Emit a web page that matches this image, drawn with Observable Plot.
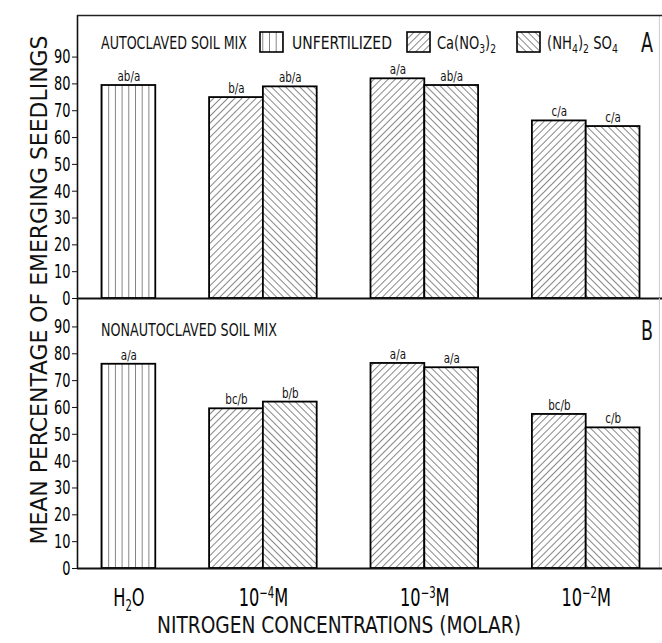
<!DOCTYPE html>
<html><head><meta charset="utf-8">
<script src="https://cdn.jsdelivr.net/npm/d3@7"></script>
<script src="https://cdn.jsdelivr.net/npm/@observablehq/plot@0.6"></script>
<style>
body{margin:0;background:#fff;}
#wrap{position:relative;width:662px;height:643px;overflow:hidden;background:#fff;}
#wrap svg{position:absolute;left:0;}
.cf{font-family:"Liberation Sans Narrow","DejaVu Sans Condensed","Roboto Condensed","Liberation Sans",sans-serif;fill:#111;}
</style></head><body>
<svg width="0" height="0" style="position:absolute">
<defs>
<pattern id="hatch-vert" patternUnits="userSpaceOnUse" x="1" y="0" width="6.7" height="10">
<rect width="6.7" height="10" fill="#fff"/><line x1="0" y1="0" x2="0" y2="10" stroke="#222" stroke-width="1.1"/></pattern>
<pattern id="hatch-ca" patternUnits="userSpaceOnUse" width="5" height="10" patternTransform="rotate(45)">
<rect width="5" height="10" fill="#fff"/><line x1="0" y1="0" x2="0" y2="10" stroke="#222" stroke-width="1.1"/></pattern>
<pattern id="hatch-nh4" patternUnits="userSpaceOnUse" width="5" height="10" patternTransform="rotate(-45)">
<rect width="5" height="10" fill="#fff"/><line x1="0" y1="0" x2="0" y2="10" stroke="#222" stroke-width="1.1"/></pattern>
</defs></svg>
<div id="wrap"></div>
<script>
// ---- data ----
const concentrations = ["H2O", "1e-4", "1e-3", "1e-2"];
const concLabels = ["H<tspan font-size='15' dy='5'>2</tspan><tspan dy='-5'>O</tspan>",
  "10<tspan font-size='15' dy='-8'>−4</tspan><tspan dy='8'>M</tspan>",
  "10<tspan font-size='15' dy='-8'>−3</tspan><tspan dy='8'>M</tspan>",
  "10<tspan font-size='15' dy='-8'>−2</tspan><tspan dy='8'>M</tspan>"];
const yTicks = [0, 10, 20, 30, 40, 50, 60, 70, 80, 90];

// Panel A: autoclaved soil mix
const autoWater = 79.4, autoWaterLetters = "ab/a";
const autoCa = [74.9, 81.9, 66.2], autoCaLetters = ["b/a", "a/a", "c/a"];
const autoNH4 = [78.9, 79.4, 64.1], autoNH4Letters = ["ab/a", "ab/a", "c/a"];
// Panel B: nonautoclaved soil mix
const nonWater = 76.1, nonWaterLetters = "a/a";
const nonCa = [59.5, 76.4, 57.4], nonCaLetters = ["bc/b", "a/a", "bc/b"];
const nonNH4 = [62.0, 74.8, 52.4], nonNH4Letters = ["b/b", "a/a", "c/b"];

function rows(w, wl, ca, cal, nh, nhl) {
  const r = [{conc: concentrations[0], treat: "U", value: w, letters: wl, x1: 0, x2: 1}];
  for (let i = 0; i < 3; i++) {
    const c = 3 * (i + 1);
    r.push({conc: concentrations[i + 1], treat: "Ca", value: ca[i], letters: cal[i], x1: c - 1, x2: c});
    r.push({conc: concentrations[i + 1], treat: "NH4", value: nh[i], letters: nhl[i], x1: c, x2: c + 1});
  }
  return r;
}
const dataA = rows(autoWater, autoWaterLetters, autoCa, autoCaLetters, autoNH4, autoNH4Letters);
const dataB = rows(nonWater, nonWaterLetters, nonCa, nonCaLetters, nonNH4, nonNH4Letters);
const groupCenters = concentrations.map((c, i) => i === 0 ? 0.5 : 3 * i);

const FONT = '"Liberation Sans Narrow","DejaVu Sans Condensed","Roboto Condensed","Liberation Sans",sans-serif';
const xDomain = [-0.455, 10.418];

function bars(data) {
  const common = {x1: "x1", x2: "x2", y: "value", stroke: "#000", strokeWidth: 1.8};
  return [
    Plot.rectY(data, {...common, filter: d => d.treat === "U", fill: "url(#hatch-vert)"}),
    Plot.rectY(data, {...common, filter: d => d.treat === "Ca", fill: "url(#hatch-ca)"}),
    Plot.rectY(data, {...common, filter: d => d.treat === "NH4", fill: "url(#hatch-nh4)"}),
    Plot.text(data, {x: d => (d.x1 + d.x2) / 2, y: "value", text: "letters", dy: -9, fontSize: 14, fill: "#111"})
  ];
}

const plotA = Plot.plot({
  width: 662, height: 300,
  marginLeft: 77, marginRight: 0, marginTop: 15, marginBottom: 2,
  x: {domain: xDomain, axis: null},
  y: {domain: [0, 105.5]},
  style: {fontFamily: FONT, background: "transparent", overflow: "visible"},
  marks: [
    ...bars(dataA),
    Plot.axisY(yTicks, {tickSize: 5, tickPadding: 2, fontSize: 20, label: null, stroke: "#111"}),
    Plot.ruleX([xDomain[0]], {stroke: "#111", strokeWidth: 1.6}),
    Plot.ruleX([10.36], {stroke: "#ccc", strokeWidth: 1}),
    Plot.ruleY([105.5], {stroke: "#222", strokeWidth: 1.6}),
    Plot.ruleY([0], {stroke: "#111", strokeWidth: 1.8})
  ]
});
plotA.style.top = "0px";

const plotB = Plot.plot({
  width: 662, height: 345,
  marginLeft: 77, marginRight: 0, marginTop: 0, marginBottom: 75,
  x: {domain: xDomain},
  y: {domain: [0, 100.6]},
  style: {fontFamily: FONT, background: "transparent", overflow: "visible"},
  marks: [
    ...bars(dataB),
    Plot.axisY(yTicks, {tickSize: 5, tickPadding: 2, fontSize: 20, label: null, stroke: "#111"}),
    Plot.axisX(groupCenters, {tickSize: 0, tickPadding: 20, fontSize: 24, label: null, tickFormat: (d, i) => concentrations[i]}),
    Plot.ruleX([xDomain[0]], {stroke: "#111", strokeWidth: 1.6}),
    Plot.ruleX([10.36], {stroke: "#ccc", strokeWidth: 1}),
    Plot.ruleY([0], {stroke: "#111", strokeWidth: 1.8})
  ]
});
plotB.style.top = "298px";

const wrap = document.getElementById("wrap");
wrap.appendChild(plotA);
wrap.appendChild(plotB);

// x tick labels with sub/superscripts
d3.select(plotB).selectAll('g[aria-label="x-axis tick label"] text').each(function () {
  const i = concentrations.indexOf(this.textContent);
  if (i >= 0) this.innerHTML = concLabels[i];
});
// condense Plot texts horizontally (the reference uses a narrow gothic face)
function condense(svg, sel, sx) {
  d3.select(svg).selectAll(sel).each(function () {
    const tr = this.getAttribute("transform") || "";
    this.setAttribute("transform", tr + ` scale(${sx},1)`);
  });
}
[plotA, plotB].forEach(p => {
  condense(p, 'g[aria-label="y-axis tick label"] text', 0.72);
  condense(p, 'g[aria-label="text"] text', 0.82);
});
condense(plotB, 'g[aria-label="x-axis tick label"] text', 0.75);

// overlay with titles, panel labels and legend
const ov = d3.select(wrap).append("svg").attr("width", 662).attr("height", 643).style("top", "0px");
function txt(x, y, s, size, len, opts = {}) {
  const t = ov.append("text").attr("class", "cf").attr("x", x).attr("y", y)
    .attr("font-size", size).text(s);
  if (len) t.attr("textLength", len).attr("lengthAdjust", "spacingAndGlyphs");
  if (opts.anchor) t.attr("text-anchor", opts.anchor);
  if (opts.transform) t.attr("transform", opts.transform).attr("x", 0).attr("y", 0);
  return t;
}
// text built from pieces (for subscripts), compressed to a target width
function rich(x, y, pieces, width) {
  const g = ov.append("g");
  let cx = 0;
  pieces.forEach(([s, size, dy]) => {
    const t = g.append("text").attr("class", "cf").attr("x", cx).attr("y", dy)
      .attr("font-size", size).attr("xml:space", "preserve").text(s);
    cx += t.node().getComputedTextLength();
  });
  g.attr("transform", `translate(${x},${y}) scale(${width / cx},1)`);
}
txt(0, 0, "MEAN PERCENTAGE OF EMERGING SEEDLINGS", 23, 509, {anchor: "middle", transform: "translate(47,290) rotate(-90)"});
txt(339, 633, "NITROGEN CONCENTRATIONS (MOLAR)", 23, 364, {anchor: "middle"});
txt(101, 49, "AUTOCLAVED SOIL MIX", 17, 146);
txt(101, 336, "NONAUTOCLAVED SOIL MIX", 17, 176);
txt(641, 52, "A", 26, 12);
txt(641, 340, "B", 26, 12);
const sw = [[260, "hatch-vert"], [407, "hatch-ca"], [517, "hatch-nh4"]];
sw.forEach(([x, id]) => ov.append("rect").attr("x", x).attr("y", 32).attr("width", 23).attr("height", 20)
  .attr("fill", `url(#${id})`).attr("stroke", "#000").attr("stroke-width", 1.6));
txt(292, 49, "UNFERTILIZED", 17, 100);
rich(437, 49, [["Ca(NO", 17, 0], ["3", 12, 4], [")", 17, 0], ["2", 12, 4]], 59);
rich(547, 49, [["(NH", 17, 0], ["4", 12, 4], [")", 17, 0], ["2", 12, 4], [" SO", 17, 0], ["4", 12, 4]], 71);
</script>
</body></html>
